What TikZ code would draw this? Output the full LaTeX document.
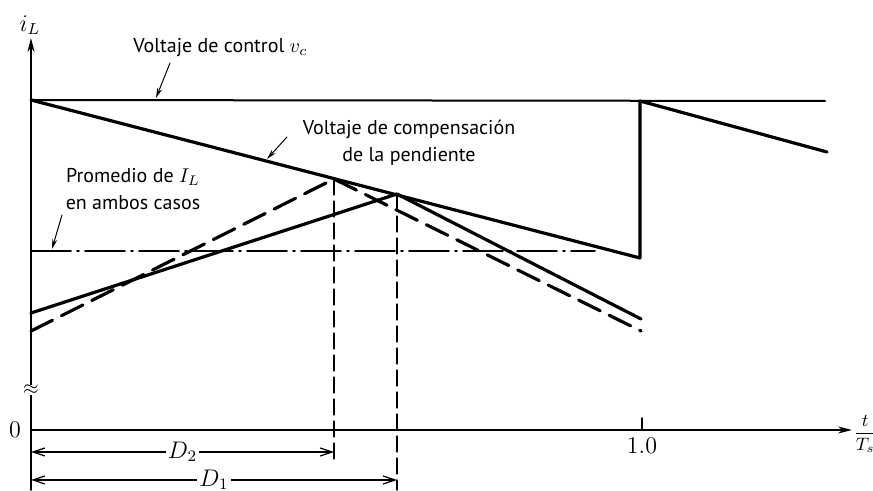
\documentclass[tikz,border=0pt]{standalone}
\usepackage{fontspec}
\newfontfamily\labelfont{PT Sans}
\usetikzlibrary{arrows.meta,calc}

\begin{document}
\begin{tikzpicture}[x=0.5pt,y=-0.5pt,line cap=round,line join=round,
  axisline/.style={line width=0.9pt,-{Stealth[length=7pt,width=3.5pt]}},
  ramp/.style={line width=1.6pt},
  guide/.style={line width=0.6pt,dash pattern=on 8pt off 3pt},
  dimline/.style={line width=0.6pt,{Straight Barb[length=6pt,width=4pt]}-{Straight Barb[length=6pt,width=4pt]}},
  pointer/.style={line width=0.5pt,-{Stealth[length=5pt,width=2.5pt]}},
  axislabel/.style={font=\large,inner sep=1pt},
  caption/.style={font=\labelfont\fontsize{10}{13.5}\selectfont,align=center,inner sep=1pt}]
  \useasboundingbox (0,0) rectangle (873,491);

  % key points
  \coordinate (O) at (31,430);
  \coordinate (vcA) at (31,100);
  \coordinate (vcB) at (825,101);
  \coordinate (compA) at (640,258);
  \coordinate (compB) at (640,101);
  \coordinate (compC) at (827,152);
  \coordinate (peakTwo) at (334,179);
  \coordinate (peakOne) at (397,194);
  \coordinate (solA) at (31,313);
  \coordinate (solB) at (641,319);
  \coordinate (dshA) at (31,331);
  \coordinate (dshB) at (641,331);

  % axes
  \draw[axisline] (31,490) -- (31,38);
  \draw[axisline] (O) -- (852,430);
  \draw[line width=0.9pt] (642,418) -- (642,430);
  \node[fill=white,inner sep=0pt] (brk) at (31,390) {$\approx$};

  % control voltage and compensation ramp
  \draw[line width=1pt] (vcA) -- (vcB);
  \draw[ramp] (vcA) -- (compA) -- (compB) -- (compC);

  % average current
  \draw[line width=0.9pt,dash pattern=on 20pt off 3pt on 1pt off 3pt] (31,251) -- (595,251);

  % inductor currents
  \draw[ramp] (solA) -- (peakOne) -- (solB);
  \draw[ramp,dash pattern=on 12pt off 5pt] (dshA) -- (peakTwo) -- (dshB);

  % guides down to the axis
  \draw[guide] (peakTwo) -- (334,463);
  \draw[guide] (peakOne) -- (397,490);

  % durations
  \draw[dimline] (31,452) -- node[axislabel,fill=white] (lblDtwo) {$D_2$} (334,452);
  \draw[dimline] (31,480) -- node[axislabel,fill=white] (lblDone) {$D_1$} (397,480);

  % axis labels
  \node[axislabel] (lbliL) at (30,25) {$i_L$};
  \node[axislabel] (lblzero) at (15,430) {0};
  \node[axislabel] (lblone) at (642,446) {1.0};
  \node[font=\small,inner sep=0pt,anchor=west] (lbltTs) at (853,434) {$\displaystyle\frac{t}{T_s}$};

  % captions
  \node[caption,anchor=west] (lblvc) at (131,48) {Voltaje de control $v_c$};
  \node[caption] (lblcomp) at (409,143) {Voltaje de compensación\\de la pendiente};
  \node[caption] (lblavg) at (133,189) {Promedio de $I_L$\\en ambos casos};

  \coordinate (vcTail) at (170,63);
  \coordinate (vcTip) at (156,98);
  \coordinate (compTail) at (287,137);
  \coordinate (compTip) at (267,159);
  \coordinate (avgTail) at (62,215);
  \coordinate (avgTip) at (52,249);
  \draw[pointer] (vcTail) -- (vcTip);
  \draw[pointer] (compTail) -- (compTip);
  \draw[pointer] (avgTail) -- (avgTip);
\end{tikzpicture}
\end{document}
